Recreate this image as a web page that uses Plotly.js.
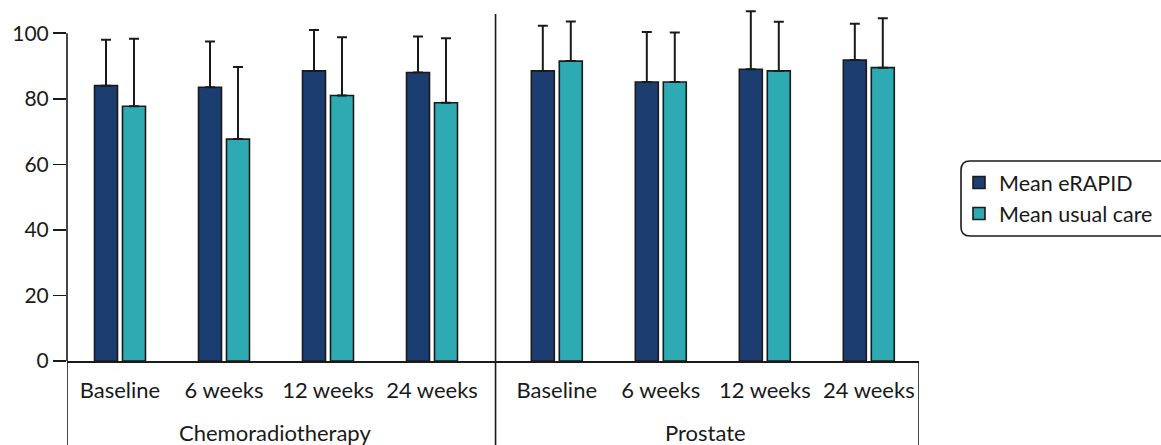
<!DOCTYPE html>
<html>
<head>
<meta charset="utf-8">
<script src="https://cdn.plot.ly/plotly-3.0.1.min.js"></script>
<style>html,body{margin:0;padding:0;background:#fff;}#chart{width:1161px;height:445px;}</style>
</head>
<body>
<div id="chart"></div>
<script>
const categories = ['Baseline', '6 weeks', '12 weeks', '24 weeks'];
const groups = ['Chemoradiotherapy', 'Prostate'];
const seriesNames = ['Mean eRAPID', 'Mean usual care'];
const chemoERAPID = [84, 83.5, 88.5, 88];
const chemoERAPIDerr = [14, 14, 12.5, 11];
const chemoUsual = [77.7, 67.7, 81, 78.8];
const chemoUsualErr = [20.6, 22, 17.8, 19.7];
const prostERAPID = [88.5, 85.1, 89, 91.8];
const prostERAPIDerr = [13.8, 15.3, 17.7, 11.1];
const prostUsual = [91.5, 85.1, 88.5, 89.5];
const prostUsualErr = [12.1, 15.1, 15, 15.1];
const yTicks = [0, 20, 40, 60, 80, 100];

// layout geometry
const W = 1161, H = 445;
const mL = 67, mR = 242, mT = 7, mB = 84;
const pw = W - mL - mR, ph = H - mT - mB;
const groupOffset = 4.2;
const xRange = [-0.5096, 7.6827];
const xs = categories.map((c, i) => i).concat(categories.map((c, i) => i + groupOffset));
const labels = categories.concat(categories);
const navy = '#1c3d70', teal = '#2eaab2', ink = '#1a1a1a';
const FONT = 'Lato, "Noto Sans", sans-serif';
const FS = 22;

const px2x = p => (p - mL) / pw;
const py2y = p => (H - mB - p) / ph;

const barW = 0.221;
function barTrace(name, vals, errs, color, offset) {
  return {
    type: 'bar', name: name, x: xs, y: vals,
    width: barW, offset: offset,
    marker: {color: color, line: {color: ink, width: 1.6}},
    error_y: {type: 'data', symmetric: false, array: errs, arrayminus: errs.map(() => 0),
              color: ink, thickness: 2, width: 5},
    hoverinfo: 'x+y'
  };
}

const data = [
  barTrace(seriesNames[0], chemoERAPID.concat(prostERAPID), chemoERAPIDerr.concat(prostERAPIDerr), navy, -0.245),
  barTrace(seriesNames[1], chemoUsual.concat(prostUsual), chemoUsualErr.concat(prostUsualErr), teal, 0.024)
];

const divX = 3.611;
const lineStyle = {color: ink, width: 1.6};
const yBottom = py2y(H + 2);

// rounded legend frame
function roundRect(x0, y0, x1, y1, r) {
  const X = px2x, Y = py2y;
  return `M${X(x0 + r)},${Y(y0)} L${X(x1 - r)},${Y(y0)} Q${X(x1)},${Y(y0)} ${X(x1)},${Y(y0 + r)} ` +
         `L${X(x1)},${Y(y1 - r)} Q${X(x1)},${Y(y1)} ${X(x1 - r)},${Y(y1)} L${X(x0 + r)},${Y(y1)} ` +
         `Q${X(x0)},${Y(y1)} ${X(x0)},${Y(y1 - r)} L${X(x0)},${Y(y0 + r)} Q${X(x0)},${Y(y0)} ${X(x0 + r)},${Y(y0)} Z`;
}

const shapes = [
  {type: 'line', xref: 'paper', yref: 'y', x0: 0, x1: 0, y0: 0, y1: 100, line: lineStyle},
  {type: 'line', xref: 'x', yref: 'paper', x0: xRange[0], x1: xRange[0], y0: 0, y1: yBottom, line: lineStyle},
  {type: 'line', xref: 'x', yref: 'paper', x0: divX, x1: divX, y0: py2y(14), y1: yBottom, line: lineStyle},
  {type: 'line', xref: 'x', yref: 'paper', x0: xRange[1], x1: xRange[1], y0: 0, y1: yBottom, line: lineStyle},
  {type: 'path', xref: 'paper', yref: 'paper', path: roundRect(961, 161, 1175, 236, 9),
   line: {color: ink, width: 1.6}, fillcolor: 'rgba(0,0,0,0)'}
];

const annotations = [
  {text: groups[0], x: 1.49, xref: 'x', y: py2y(432), yref: 'paper', showarrow: false,
   xanchor: 'center', yanchor: 'middle', font: {family: FONT, size: FS, color: ink}},
  {text: groups[1], x: 5.63, xref: 'x', y: py2y(432), yref: 'paper', showarrow: false,
   xanchor: 'center', yanchor: 'middle', font: {family: FONT, size: FS, color: ink}}
];

const layout = {
  width: W, height: H,
  margin: {l: mL, r: mR, t: mT, b: mB, pad: 0, autoexpand: false},
  paper_bgcolor: '#fff', plot_bgcolor: '#fff',
  font: {family: FONT, size: FS, color: ink},
  barmode: 'overlay',
  showlegend: true,
  legend: {x: px2x(959), xanchor: 'left', y: py2y(162), yanchor: 'top',
           font: {family: FONT, size: 21.5, color: ink}, bgcolor: 'rgba(0,0,0,0)',
           borderwidth: 0, tracegroupgap: 0, itemwidth: 30},
  xaxis: {range: xRange, tickmode: 'array', tickvals: xs, ticktext: labels,
          showline: true, linecolor: ink, linewidth: 1.6, ticks: '', showgrid: false, zeroline: false,
          ticklabelstandoff: 9, automargin: false,
          tickfont: {family: FONT, size: FS, color: ink}, fixedrange: true},
  yaxis: {range: [0, 108], tickmode: 'array', tickvals: yTicks, ticks: 'outside', ticklen: 13,
          tickwidth: 1.6, tickcolor: ink, showline: false, showgrid: false, zeroline: false,
          automargin: false,
          tickfont: {family: FONT, size: 21, color: ink}, fixedrange: true},
  shapes: shapes,
  annotations: annotations
};

Plotly.newPlot('chart', data, layout, {displayModeBar: false, staticPlot: true});
</script>
</body>
</html>
